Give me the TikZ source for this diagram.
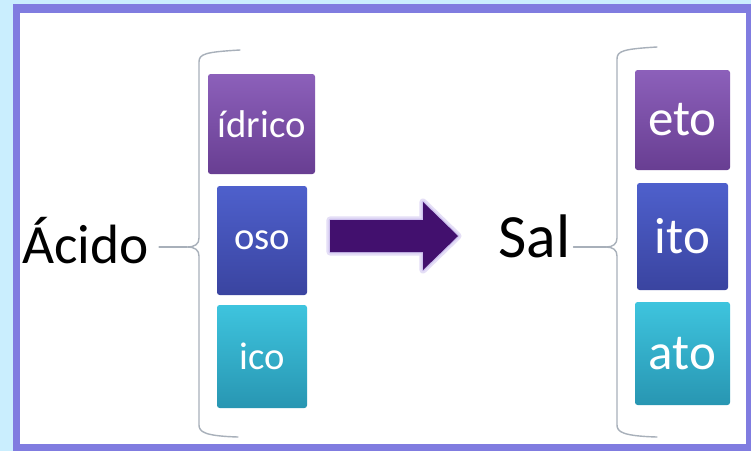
\documentclass[tikz,border=0pt]{standalone}
\usepackage{fontspec}
\setmainfont{Carlito}
\usepackage{tikz}
\usetikzlibrary{
  arrows.meta,
  positioning,
  calc
}
\usepackage{xcolor}
\definecolor{bgcyan}{RGB}{202,238,254}
\definecolor{framecol}{RGB}{128,124,224}
\definecolor{purpA}{RGB}{140,96,186}
\definecolor{purpB}{RGB}{104,62,146}
\definecolor{blueA}{RGB}{78,96,204}
\definecolor{blueB}{RGB}{58,68,160}
\definecolor{cyanA}{RGB}{62,196,222}
\definecolor{cyanB}{RGB}{40,150,178}
\definecolor{arrowcol}{RGB}{66,16,110}
\definecolor{glowcol}{RGB}{196,182,236}
\definecolor{bracecol}{RGB}{168,176,186}
\tikzset{
  suffix box/.style={
    rectangle, rounded corners=1.5pt,
    text=white, inner sep=0pt
  },
  left box/.style={
    suffix box, font=\fontsize{22}{26}\selectfont
  },
  right box/.style={
    suffix box, font=\fontsize{29}{34}\selectfont
  },
  purple box/.style={top color=purpA, bottom color=purpB},
  blue box/.style={top color=blueA, bottom color=blueB},
  cyan box/.style={top color=cyanA, bottom color=cyanB},
  brace line/.style={
    draw=bracecol, line width=0.8pt, line cap=round
  },
  big word/.style={
    inner sep=0pt, anchor=base west
  },
}

\begin{document}
\begin{tikzpicture}

  \useasboundingbox (0,0) rectangle (15.02,9.02);
  \fill[bgcyan] (0,0) rectangle (15.02,9.02);
  \fill[framecol] (0.26,0) rectangle (15.02,8.94);
  \fill[white] (0.40,0.14) rectangle (14.91,8.77);

  % Acid side
  \node[big word, font=\fontsize{31.5}{36}\selectfont] (acido) at (0.44,3.76) {Ácido};

  \node[left box, purple box, minimum width=2.14cm, minimum height=2.0cm]
    (idrico) at (5.23,6.54) {ídrico};
  \node[left box, blue box, minimum width=1.8cm, minimum height=2.18cm]
    (oso) at (5.24,4.21) {oso};
  \node[left box, cyan box, minimum width=1.8cm, minimum height=2.06cm]
    (ico) at (5.24,1.89) {ico};

  \draw[brace line] (4.80,8.02) .. controls (4.10,7.98) and (3.98,7.94) .. (3.98,7.78)
    -- (3.98,4.26) .. controls (3.98,4.14) and (3.90,4.08) .. (3.74,4.08)
    coordinate (lbtip)
    .. controls (3.90,4.08) and (3.98,4.02) .. (3.98,3.90)
    -- (3.98,0.52) .. controls (3.98,0.38) and (4.10,0.30) .. (4.76,0.28);
  \draw[brace line, shorten >=0.2cm] (lbtip) -- (lbtip -| acido.east);

  % Arrow
  \draw[glowcol, line width=4pt, line join=round, opacity=0.45]
    (6.60,4.62) -- (8.46,4.62) -- (8.46,4.98) -- (9.16,4.30)
    -- (8.46,3.62) -- (8.46,3.98) -- (6.60,3.98) -- cycle;
  \draw[glowcol, line width=1.5pt, line join=round, opacity=0.7]
    (6.60,4.62) -- (8.46,4.62) -- (8.46,4.98) -- (9.16,4.30)
    -- (8.46,3.62) -- (8.46,3.98) -- (6.60,3.98) -- cycle;
  \fill[arrowcol]
    (6.60,4.62) -- (8.46,4.62) -- (8.46,4.98) -- (9.16,4.30)
    -- (8.46,3.62) -- (8.46,3.98) -- (6.60,3.98) -- cycle;

  % Salt side
  \node[big word, font=\fontsize{35}{40}\selectfont] (sal) at (9.96,3.88) {Sal};

  \node[right box, purple box, minimum width=1.9cm, minimum height=2.0cm]
    (eto) at (13.65,6.62) {eto};
  \node[right box, blue box, minimum width=1.82cm, minimum height=2.14cm]
    (ito) at (13.65,4.29) {ito};
  \node[right box, cyan box, minimum width=1.9cm, minimum height=2.06cm]
    (ato) at (13.65,1.95) {ato};

  \draw[brace line] (13.14,8.08) .. controls (12.46,8.04) and (12.34,8.00) .. (12.34,7.84)
    -- (12.34,4.26) .. controls (12.34,4.14) and (12.26,4.08) .. (12.12,4.08)
    coordinate (rbtip)
    .. controls (12.26,4.08) and (12.34,4.02) .. (12.34,3.90)
    -- (12.34,0.52) .. controls (12.34,0.38) and (12.46,0.30) .. (13.14,0.28);
  \draw[brace line, shorten >=0.06cm] (rbtip) -- (rbtip -| sal.east);

\end{tikzpicture}
\end{document}
